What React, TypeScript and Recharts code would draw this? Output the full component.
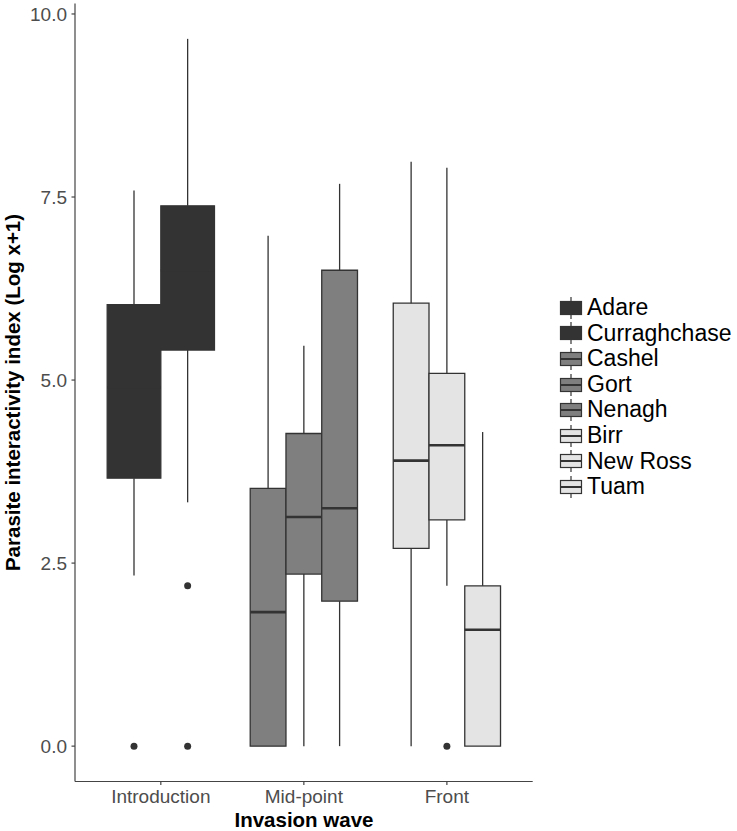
import React from "react";
import {
  ComposedChart,
  XAxis,
  YAxis,
  ReferenceArea,
  ReferenceLine,
  Scatter,
  Label,
} from "recharts";

const waves = ["Introduction", "Mid-point", "Front"];
const sites = ["Adare", "Curraghchase", "Cashel", "Gort", "Nenagh", "Birr", "New Ross", "Tuam"];
const siteWave = [0, 0, 1, 1, 1, 2, 2, 2];

const whiskerLow = [2.33, 3.33, 0, 0, 0, 0, 2.19, 0];
const q1 = [3.66, 5.41, 0, 2.35, 1.98, 2.7, 3.09, 0];
const medians = [4.9, 6.5, 1.83, 3.13, 3.25, 3.9, 4.11, 1.59];
const q3 = [6.03, 7.38, 3.52, 4.27, 6.5, 6.05, 5.09, 2.19];
const whiskerHigh = [7.59, 9.66, 6.97, 5.47, 7.68, 7.98, 7.9, 4.29];

const outlierSite = [0, 1, 1, 6];
const outlierValue = [0, 2.19, 0, 0];

const yTicks = [0, 2.5, 5, 7.5, 10];
const waveFills = ["#333333", "#7f7f7f", "#e4e4e4"];

const INK = "#333333";
const FONT = "'Liberation Sans', Arial, Helvetica, sans-serif";

// dodge boxes within each wave (total width 0.75 of a category)
const groupWidth = 0.75;
const boxes = sites.map((name, i) => {
  const w = siteWave[i];
  const members = siteWave.filter((v) => v === w).length;
  const j = siteWave.slice(0, i).filter((v) => v === w).length;
  const bw = groupWidth / members;
  const center = w + 1 - groupWidth / 2 + (j + 0.5) * bw;
  return {
    name,
    center,
    half: bw / 2,
    fill: waveFills[w],
    low: whiskerLow[i],
    q1: q1[i],
    med: medians[i],
    q3: q3[i],
    high: whiskerHigh[i],
  };
});

const outlierData = outlierSite.map((s, k) => ({ x: boxes[s].center, y: outlierValue[k] }));

const dataLo = Math.min(...whiskerLow, ...outlierValue);
const dataHi = Math.max(...whiskerHigh);
const pad = (dataHi - dataLo) * 0.05;

function LegendKey({ fill }: { fill: string }) {
  return (
    <svg width={24} height={26} style={{ display: "block" }}>
      <line x1={12} x2={12} y1={2} y2={24} stroke={INK} strokeWidth={1.2} />
      <rect x={1.5} y={6.5} width={21} height={13} fill={fill} stroke={INK} strokeWidth={1.2} />
      <line x1={1.5} x2={22.5} y1={13} y2={13} stroke={INK} strokeWidth={2} />
    </svg>
  );
}

export default function App() {
  return (
    <div
      style={{
        position: "absolute",
        left: 0,
        top: 0,
        width: 737,
        height: 831,
        background: "#fff",
        fontFamily: FONT,
      }}
    >
      <ComposedChart
        width={737}
        height={831}
        margin={{ top: 3.5, right: 204.3, bottom: 0, left: 0 }}
        style={{ fontFamily: FONT }}
      >
        <XAxis
          type="number"
          dataKey="x"
          domain={[0.4, 3.6]}
          allowDataOverflow
          ticks={[1, 2, 3]}
          interval={0}
          tickFormatter={(v: number) => waves[v - 1]}
          height={49.5}
          tickSize={3.5}
          tickMargin={5}
          tick={{ fill: "#4d4d4d", fontSize: 19 }}
          axisLine={{ stroke: "#444", strokeWidth: 1.2 }}
          tickLine={{ stroke: "#444", strokeWidth: 1.2 }}
        >
          <Label
            content={() => (
              <text x={304} y={827} textAnchor="middle" fontSize={20.5} fontWeight="bold" fill="#000" fontFamily={FONT}>
                Invasion wave
              </text>
            )}
          />
        </XAxis>
        <YAxis
          type="number"
          dataKey="y"
          domain={[dataLo - pad, dataHi + pad]}
          allowDataOverflow
          ticks={yTicks}
          interval={0}
          tickFormatter={(v: number) => v.toFixed(1)}
          width={75}
          tickSize={3.5}
          tickMargin={4.5}
          tick={{ fill: "#4d4d4d", fontSize: 19 }}
          axisLine={{ stroke: "#444", strokeWidth: 1.2 }}
          tickLine={{ stroke: "#444", strokeWidth: 1.2 }}
        >
          <Label
            content={() => (
              <text
                x={20}
                y={392.5}
                transform="rotate(-90 20 392.5)"
                textAnchor="middle"
                fontSize={20.5}
                fontWeight="bold"
                fill="#000"
                fontFamily={FONT}
              >
                Parasite interactivity index (Log x+1)
              </text>
            )}
          />
        </YAxis>

        {boxes.map((b) => (
          <ReferenceLine
            key={`wu-${b.name}`}
            segment={[
              { x: b.center, y: b.q3 },
              { x: b.center, y: b.high },
            ]}
            stroke={INK}
            strokeWidth={1.3}
            ifOverflow="visible"
          />
        ))}
        {boxes.map((b) => (
          <ReferenceLine
            key={`wl-${b.name}`}
            segment={[
              { x: b.center, y: b.q1 },
              { x: b.center, y: b.low },
            ]}
            stroke={INK}
            strokeWidth={1.3}
            ifOverflow="visible"
          />
        ))}
        {boxes.map((b) => (
          <ReferenceArea
            key={`box-${b.name}`}
            x1={b.center - b.half}
            x2={b.center + b.half}
            y1={b.q1}
            y2={b.q3}
            fill={b.fill}
            fillOpacity={1}
            stroke={INK}
            strokeWidth={1.3}
            ifOverflow="visible"
          />
        ))}
        {boxes.map((b) => (
          <ReferenceLine
            key={`med-${b.name}`}
            segment={[
              { x: b.center - b.half, y: b.med },
              { x: b.center + b.half, y: b.med },
            ]}
            stroke={INK}
            strokeWidth={2.6}
            ifOverflow="visible"
          />
        ))}

        <Scatter
          data={outlierData}
          dataKey="y"
          isAnimationActive={false}
          shape={(p: any) => <circle cx={p.cx} cy={p.cy} r={3.5} fill={INK} />}
        />
      </ComposedChart>

      <div style={{ position: "absolute", left: 559, top: 295 }}>
        {boxes.map((b) => (
          <div key={b.name} style={{ display: "flex", alignItems: "center", height: 25.6 }}>
            <LegendKey fill={b.fill} />
            <span style={{ marginLeft: 4, fontSize: 23, color: "#000", lineHeight: "25.6px" }}>{b.name}</span>
          </div>
        ))}
      </div>
    </div>
  );
}
